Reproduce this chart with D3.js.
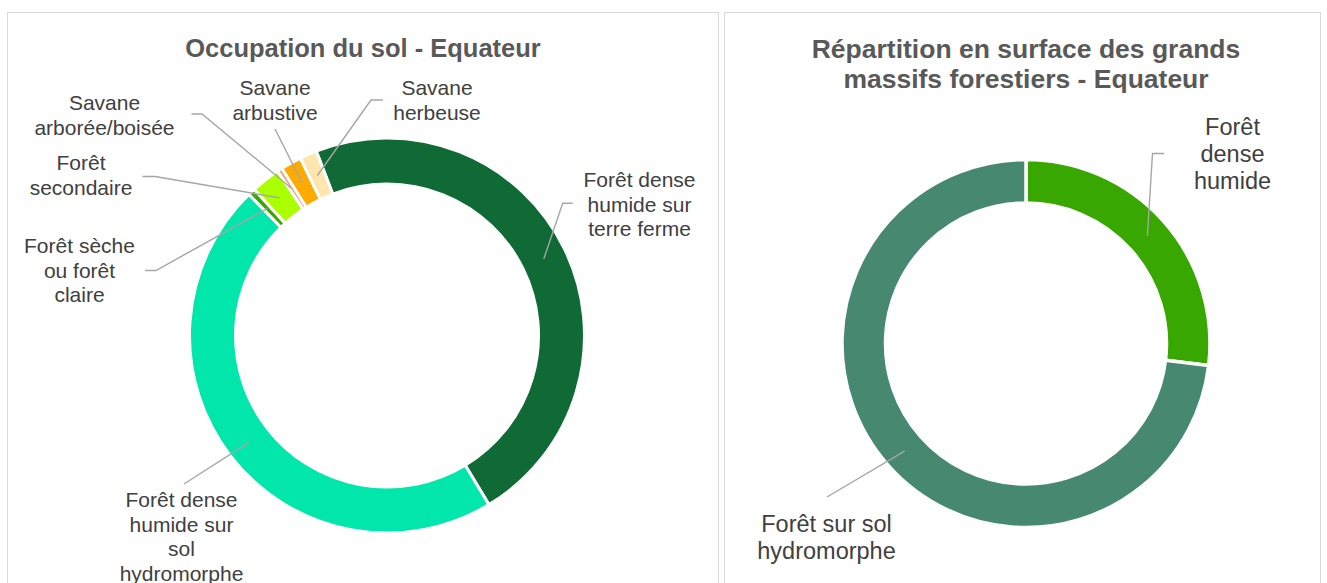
<!DOCTYPE html>
<html>
<head>
<meta charset="utf-8">
<script src="https://cdn.jsdelivr.net/npm/d3@7"></script>
<style>
  body { margin: 0; background: #fff; }
  svg { display: block; font-family: "Liberation Sans", Arial, sans-serif; }
</style>
</head>
<body>
<div id="charts"></div>
<script>
// Occupation du sol (share of total area, %)
var occupationCategories = [
  "Forêt dense humide sur terre ferme",
  "Forêt dense humide sur sol hydromorphe",
  "Forêt sèche ou forêt claire",
  "Forêt secondaire",
  "Savane arborée/boisée",
  "Savane arbustive",
  "Savane herbeuse"
];
var occupationValues = [47.2, 46.3, 0.6, 2.4, 0.4, 1.7, 1.4];
var occupationLabelLines = [
  ["Forêt dense", "humide sur", "terre ferme"],
  ["Forêt dense", "humide sur", "sol", "hydromorphe"],
  ["Forêt sèche", "ou forêt", "claire"],
  ["Forêt", "secondaire"],
  ["Savane", "arborée/boisée"],
  ["Savane", "arbustive"],
  ["Savane", "herbeuse"]
];

// Grands massifs forestiers (%)
var massifCategories = ["Forêt dense humide", "Forêt sur sol hydromorphe"];
var massifValues = [26.9, 73.1];
var massifLabelLines = [
  ["Forêt", "dense", "humide"],
  ["Forêt sur sol", "hydromorphe"]
];

var occupationColors = ["#106a36", "#00e6ab", "#3aa800", "#aaff00", "#f27a45", "#ffaa00", "#ffe6ae"];
var massifColors = ["#38a800", "#468970"];

var width = 1327, height = 583;
var svg = d3.select("#charts").append("svg")
  .attr("width", width)
  .attr("height", height);

// panel frames
svg.append("rect").attr("x", 7.5).attr("y", 12.5).attr("width", 711).attr("height", 600)
  .attr("fill", "#fff").attr("stroke", "#d9d9d9");
svg.append("rect").attr("x", 724.5).attr("y", 12.5).attr("width", 596).attr("height", 600)
  .attr("fill", "#fff").attr("stroke", "#d9d9d9");

/*
  Draws one doughnut with its title and call-out labels
*/
function drawDonut(opts) {
  var g = svg.append("g");
  var rad = Math.PI / 180;

  var pie = d3.pie()
    .sort(null)
    .startAngle(opts.start * rad)
    .endAngle((opts.start + 360) * rad);
  var arc = d3.arc()
    .innerRadius(opts.inner)
    .outerRadius(opts.outer);

  var arcs = pie(opts.values);

  var ring = g.append("g")
    .attr("transform", "translate(" + opts.cx + "," + opts.cy + ")");

  ring.selectAll("path")
    .data(arcs)
    .enter().append("path")
    .attr("d", arc)
    .attr("fill", function(d, i) { return opts.colors[i]; })
    .attr("fill-opacity", function(d, i) { return opts.faint === i ? 0.75 : 1; })
    .attr("stroke", "#fff")
    .attr("stroke-width", opts.gap);

  // leader lines end at the arc centroid
  var line = d3.line();
  g.selectAll("path.leader")
    .data(arcs)
    .enter().append("path")
    .attr("class", "leader")
    .attr("fill", "none")
    .attr("stroke", "#a6a6a6")
    .attr("stroke-width", 1.4)
    .attr("d", function(d, i) {
      var c = arc.centroid(d);
      var pts = opts.layout[i].lead.concat([[c[0] + opts.cx, c[1] + opts.cy]]);
      return line(pts);
    });

  g.selectAll("text.label")
    .data(opts.labels)
    .enter().append("text")
    .attr("class", "label")
    .attr("text-anchor", "middle")
    .attr("font-size", opts.labelSize)
    .attr("fill", "#404040")
    .each(function(lines, i) {
      var t = d3.select(this);
      var pos = opts.layout[i];
      lines.forEach(function(s, k) {
        t.append("tspan")
          .attr("x", pos.x)
          .attr("y", pos.y + k * opts.lineHeight)
          .text(s);
      });
    });

  var title = g.append("text")
    .attr("text-anchor", "middle")
    .attr("font-size", opts.titleSize)
    .attr("font-weight", "bold")
    .attr("fill", "#595959");
  opts.title.forEach(function(s, k) {
    title.append("tspan")
      .attr("x", opts.titleX)
      .attr("y", opts.titleY + k * 30)
      .text(s);
  });
}

drawDonut({
  values: occupationValues,
  colors: occupationColors,
  labels: occupationLabelLines,
  title: ["Occupation du sol - Equateur"],
  titleX: 363, titleY: 56.5, titleSize: 25.5,
  cx: 387, cy: 335.5, outer: 197.5, inner: 151.5,
  start: -21, gap: 3, faint: 4,
  labelSize: 21, lineHeight: 24.5,
  layout: [
    { x: 639.5, y: 187, lead: [[572.7, 203.3], [562.7, 203.3]] },
    { x: 181.5, y: 507, lead: [[184, 484]] },
    { x: 79.5, y: 253, lead: [[145, 270.5], [156, 270.5]] },
    { x: 81, y: 170, lead: [[142.5, 176.5], [155, 176.5]] },
    { x: 104.5, y: 110, lead: [[191.5, 114], [202, 114]] },
    { x: 275, y: 95, lead: [[275, 129]] },
    { x: 437, y: 95, lead: [[383, 100], [371, 100]] }
  ]
});

drawDonut({
  values: massifValues,
  colors: massifColors,
  labels: massifLabelLines,
  title: ["Répartition en surface des grands", "massifs forestiers - Equateur"],
  titleX: 1026, titleY: 58, titleSize: 26.5,
  cx: 1026, cy: 343.5, outer: 184, inner: 140.5,
  start: 0, gap: 3.5,
  labelSize: 23.5, lineHeight: 27,
  layout: [
    { x: 1232.5, y: 135, lead: [[1164, 153.5], [1152.5, 153.5]] },
    { x: 826.5, y: 532, lead: [[827, 497]] }
  ]
});
</script>
</body>
</html>
